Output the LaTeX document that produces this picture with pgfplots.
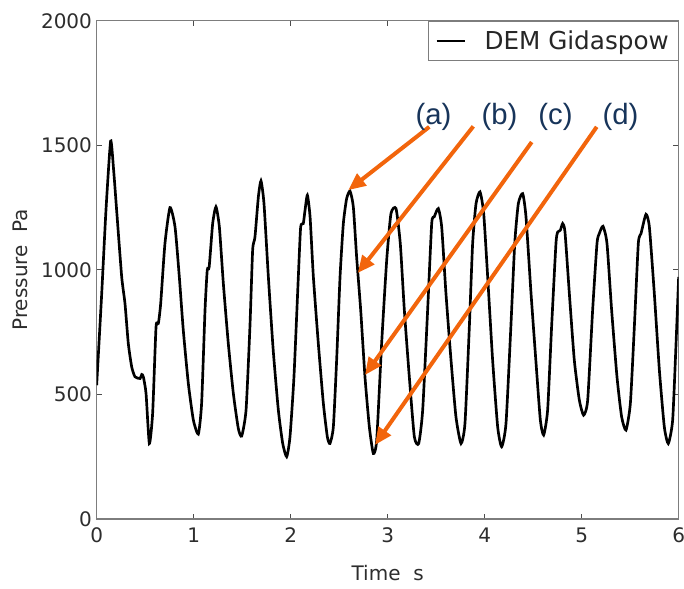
\documentclass[border=0pt]{standalone}
\usepackage{pgfplots}
\pgfplotsset{compat=1.18}
\usepackage{fontspec}
\setmainfont{DejaVu Sans}
\newfontfamily\arialfont{Liberation Sans}
\usetikzlibrary{arrows.meta}
\definecolor{navy}{RGB}{23,52,90}
\definecolor{orng}{RGB}{242,101,12}
\definecolor{framegray}{RGB}{125,125,125}
\definecolor{textgray}{RGB}{45,45,45}
\begin{document}
\begin{tikzpicture}
\begin{axis}[
  scale only axis, width=436.5pt, height=373.7pt,
  xmin=0, xmax=6, ymin=0, ymax=2000,
  xtick={0,1,2,3,4,5,6}, ytick={0,500,1000,1500,2000},
  tick align=inside, tick pos=both, major tick length=4pt,
  axis line style={framegray, line width=0.8pt},
  tick style={black!70, line width=0.6pt},
  /pgf/number format/assume math mode=true,
  /pgf/number format/1000 sep={},
  ticklabel style={font=\fontsize{15}{18}\selectfont, text=textgray},
  xticklabel style={yshift=-3pt},
  xlabel={Time\ \ s}, ylabel={Pressure\ \ Pa},
  label style={font=\fontsize{15}{18}\selectfont, text=textgray},
  xlabel style={at={(axis description cs:0.5,0)}, anchor=base, yshift=-45.75pt},
  ylabel style={at={(axis description cs:-0.118,0.5)}, anchor=base},
  legend style={at={(1,1)}, anchor=north east, draw=framegray, line width=0.8pt,
    font=\fontsize{18.5}{21}\selectfont, text=black!85, inner xsep=5pt, inner ysep=5pt},
  legend image code/.code={\draw[#1, line width=2pt] (0pt,0pt) -- (21pt,0pt); \path (33pt,0pt);},
]
\addplot[black, line width=2pt, smooth, tension=0.35] coordinates {
(0,537) (0.052,905) (0.096,1240) (0.144,1517) (0.175,1400) (0.206,1239) (0.258,972)
(0.292,865) (0.326,705) (0.361,611) (0.395,571) (0.447,564) (0.465,580) (0.481,571)
(0.509,504) (0.543,303) (0.577,424) (0.612,771) (0.636,785) (0.66,865) (0.704,1106)
(0.756,1250) (0.808,1172) (0.852,972) (0.893,758) (0.945,544) (0.997,397) (1.048,341)
(1.082,464) (1.117,838) (1.14,999) (1.16,1012) (1.196,1186) (1.23,1253) (1.265,1172)
(1.306,945) (1.357,705) (1.409,504) (1.46,364) (1.495,333) (1.54,437) (1.58,771)
(1.608,1079) (1.632,1132) (1.667,1293) (1.694,1357) (1.725,1266) (1.77,972) (1.82,678)
(1.873,437) (1.918,303) (1.959,250) (1.993,330) (2.034,571) (2.079,972) (2.103,1172)
(2.13,1186) (2.148,1239) (2.172,1300) (2.2,1213) (2.234,972) (2.285,705) (2.337,464)
(2.378,330) (2.405,303) (2.44,370) (2.474,638) (2.509,972) (2.543,1186) (2.577,1286)
(2.612,1316) (2.646,1253) (2.68,1052) (2.722,838) (2.766,571) (2.811,370) (2.852,263)
(2.887,317) (2.938,705) (2.99,1039) (3.034,1226) (3.086,1246) (3.13,1106) (3.172,838)
(3.223,571) (3.275,330) (3.32,303) (3.361,437) (3.412,838) (3.454,1186) (3.48,1213)
(3.522,1246) (3.557,1172) (3.601,905) (3.653,638) (3.704,410) (3.756,303) (3.797,384)
(3.842,771) (3.876,1106) (3.911,1266) (3.952,1313) (3.99,1226) (4.031,972) (4.082,638)
(4.134,370) (4.175,290) (4.22,384) (4.27,771) (4.31,1106) (4.347,1266) (4.392,1306)
(4.426,1213) (4.478,905) (4.53,624) (4.574,397) (4.608,337) (4.649,437) (4.69,771)
(4.735,1106) (4.753,1152) (4.78,1159) (4.804,1186) (4.828,1152) (4.873,905) (4.924,638)
(4.976,477) (5.02,417) (5.062,477) (5.113,838) (5.158,1106) (5.182,1146) (5.22,1175)
(5.261,1106) (5.309,838) (5.364,571) (5.412,410) (5.457,357) (5.502,464) (5.543,771)
(5.584,1106) (5.612,1146) (5.663,1223) (5.698,1172) (5.749,905) (5.801,598) (5.852,370)
(5.893,303) (5.938,397) (5.973,705) (6.0,972)
};
\addlegendentry{DEM Gidaspow}
\draw[orng, line width=3pt, -{Triangle[length=13pt,width=11pt]}] (axis cs:3.429,1574) -- (axis cs:2.594,1320);
\draw[orng, line width=3pt, -{Triangle[length=13pt,width=11pt]}] (axis cs:3.883,1576) -- (axis cs:2.691,987);
\draw[orng, line width=3pt, -{Triangle[length=13pt,width=11pt]}] (axis cs:4.485,1513) -- (axis cs:2.766,578);
\draw[orng, line width=3pt, -{Triangle[length=13pt,width=11pt]}] (axis cs:5.155,1574) -- (axis cs:2.869,297);
\node[text=navy, font=\arialfont\fontsize{22}{26}\selectfont] at (axis cs:3.472,1615) {(a)};
\node[text=navy, font=\arialfont\fontsize{22}{26}\selectfont] at (axis cs:4.153,1615) {(b)};
\node[text=navy, font=\arialfont\fontsize{22}{26}\selectfont] at (axis cs:4.730,1615) {(c)};
\node[text=navy, font=\arialfont\fontsize{22}{26}\selectfont] at (axis cs:5.400,1615) {(d)};
\end{axis}
\pgfresetboundingbox
\useasboundingbox (-72.5pt,-51.75pt) rectangle (440.5pt,389.25pt);
\end{tikzpicture}
\end{document}
